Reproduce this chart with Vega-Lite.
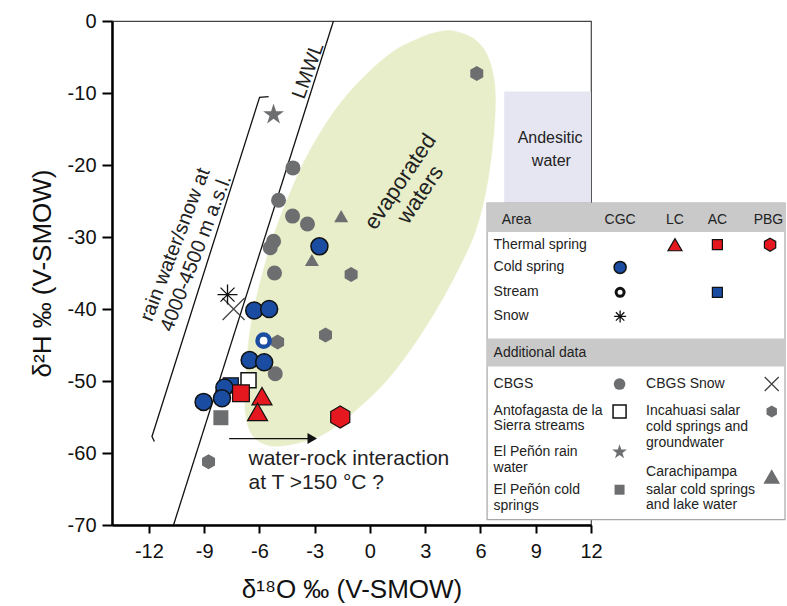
{
  "$schema": "https://vega.github.io/schema/vega-lite/v6.json",
  "width": 479,
  "height": 504,
  "autosize": {"type": "none"},
  "padding": {"left": 112, "top": 21, "right": 196, "bottom": 81},
  "background": "white",
  "config": {
    "font": "Liberation Sans",
    "view": {"stroke": "#444", "strokeWidth": 1.2},
    "axis": {"grid": false, "domainColor": "#000", "domainWidth": 2.5, "tickColor": "#000", "tickWidth": 2, "labelFont": "Liberation Sans", "labelFontSize": 20, "labelColor": "#111", "titleFont": "Liberation Sans", "titleFontSize": 26, "titleFontWeight": "normal", "titleColor": "#111"}
  },
  "datasets": {
    "points": [
      {"group": "cbgs", "where": "plot", "x": -4.18, "y": -20.4},
      {"group": "cbgs", "where": "plot", "x": -4.96, "y": -24.9},
      {"group": "cbgs", "where": "plot", "x": -4.20, "y": -27.1},
      {"group": "cbgs", "where": "plot", "x": -3.39, "y": -28.2},
      {"group": "cbgs", "where": "plot", "x": -5.23, "y": -30.6},
      {"group": "cbgs", "where": "plot", "x": -5.41, "y": -31.5},
      {"group": "cbgs", "where": "plot", "x": -5.18, "y": -35.0},
      {"group": "cbgs", "where": "plot", "x": -5.14, "y": -49.0},
      {"group": "cbgs", "where": "key", "x": 13.55, "y": -50.42},
      {"group": "incahuasi", "where": "plot", "x": 5.80, "y": -7.3},
      {"group": "incahuasi", "where": "plot", "x": -1.02, "y": -35.2},
      {"group": "incahuasi", "where": "plot", "x": -2.41, "y": -43.6},
      {"group": "incahuasi", "where": "plot", "x": -5.01, "y": -44.6},
      {"group": "incahuasi", "where": "plot", "x": -8.76, "y": -61.2},
      {"group": "incahuasi", "where": "key", "x": 21.81, "y": -54.22},
      {"group": "carachipampa", "where": "plot", "x": -1.56, "y": -27.1},
      {"group": "carachipampa", "where": "plot", "x": -3.15, "y": -33.2},
      {"group": "carachipampa", "where": "key", "x": 21.81, "y": -63.25},
      {"group": "penon_cold", "where": "plot", "x": -8.09, "y": -55.1},
      {"group": "penon_cold", "where": "key", "x": 13.55, "y": -65.1},
      {"group": "penon_rain", "where": "plot", "x": -5.23, "y": -13.0},
      {"group": "penon_rain", "where": "key", "x": 13.55, "y": -59.86},
      {"group": "cbgs_snow", "where": "plot", "x": -7.40, "y": -40.0},
      {"group": "cbgs_snow", "where": "key", "x": 21.81, "y": -50.42},
      {"group": "antofagasta", "where": "plot", "x": -6.59, "y": -49.9},
      {"group": "antofagasta", "where": "key", "x": 13.55, "y": -54.22},
      {"group": "cgc_stream", "where": "plot", "x": -5.77, "y": -44.4},
      {"group": "cgc_stream", "where": "key", "x": 13.58, "y": -37.69},
      {"group": "ac_stream", "where": "plot", "x": -7.55, "y": -50.6},
      {"group": "ac_stream", "where": "key", "x": 18.86, "y": -37.69},
      {"group": "cgc_cold", "where": "plot", "x": -2.74, "y": -31.3},
      {"group": "cgc_cold", "where": "plot", "x": -6.28, "y": -40.2},
      {"group": "cgc_cold", "where": "plot", "x": -5.47, "y": -40.0},
      {"group": "cgc_cold", "where": "plot", "x": -6.53, "y": -47.1},
      {"group": "cgc_cold", "where": "plot", "x": -5.74, "y": -47.4},
      {"group": "cgc_cold", "where": "plot", "x": -7.90, "y": -50.9},
      {"group": "cgc_cold", "where": "plot", "x": -9.03, "y": -52.9},
      {"group": "cgc_cold", "where": "plot", "x": -8.03, "y": -52.4},
      {"group": "cgc_cold", "where": "key", "x": 13.58, "y": -34.22},
      {"group": "cgc_snow", "where": "plot", "x": -7.73, "y": -38.0},
      {"group": "cgc_snow", "where": "key", "x": 13.58, "y": -41.03},
      {"group": "ac_thermal", "where": "plot", "x": -7.0, "y": -51.7},
      {"group": "ac_thermal", "where": "key", "x": 18.86, "y": -31.07},
      {"group": "lc_thermal", "where": "plot", "x": -5.86, "y": -52.1},
      {"group": "lc_thermal", "where": "plot", "x": -6.10, "y": -54.3},
      {"group": "lc_thermal", "where": "key", "x": 16.56, "y": -31.07},
      {"group": "pbg_thermal", "where": "plot", "x": -1.61, "y": -55.0},
      {"group": "pbg_thermal", "where": "key", "x": 21.72, "y": -31.07}
    ]
  },
  "encoding": {
    "x": {"field": "x", "type": "quantitative", "scale": {"domain": [-14, 12], "nice": false, "zero": false}, "axis": {"values": [-12, -9, -6, -3, 0, 3, 6, 9, 12], "title": "δ¹⁸O ‰ (V-SMOW)", "tickSize": 8, "labelPadding": 8, "titlePadding": 15, "labelFlush": false, "labelExpr": "replace(datum.label, '−', '-')"}},
    "y": {"field": "y", "type": "quantitative", "scale": {"domain": [-70, 0], "nice": false, "zero": false}, "axis": {"values": [-70, -60, -50, -40, -30, -20, -10, 0], "title": "δ²H ‰ (V-SMOW)", "tickSize": 10, "labelPadding": 6, "titlePadding": 12, "labelFlush": false, "labelExpr": "replace(datum.label, '−', '-')"}}
  },
  "layer": [
    {
      "data": {"values": [
        {"i": 0, "x": 4.90, "y": -1.63}, {"i": 1, "x": 5.71, "y": -2.60}, {"i": 2, "x": 6.36, "y": -4.68}, {"i": 3, "x": 6.74, "y": -8.15},
        {"i": 4, "x": 6.80, "y": -12.3}, {"i": 5, "x": 6.63, "y": -17.9}, {"i": 6, "x": 6.26, "y": -24.1}, {"i": 7, "x": 5.66, "y": -29.7},
        {"i": 8, "x": 4.79, "y": -34.5}, {"i": 9, "x": 3.76, "y": -39.4}, {"i": 10, "x": 2.46, "y": -44.7}, {"i": 11, "x": 0.99, "y": -49.7},
        {"i": 12, "x": -0.64, "y": -53.8}, {"i": 13, "x": -2.37, "y": -57.2}, {"i": 14, "x": -3.89, "y": -58.6}, {"i": 15, "x": -5.41, "y": -59.0},
        {"i": 16, "x": -6.39, "y": -57.5}, {"i": 17, "x": -6.77, "y": -54.0}, {"i": 18, "x": -6.71, "y": -48.4}, {"i": 19, "x": -6.50, "y": -42.9},
        {"i": 20, "x": -6.06, "y": -37.3}, {"i": 21, "x": -5.30, "y": -30.4}, {"i": 22, "x": -4.49, "y": -24.8}, {"i": 23, "x": -3.24, "y": -17.9},
        {"i": 24, "x": -1.45, "y": -10.9}, {"i": 25, "x": 0.88, "y": -4.96}, {"i": 26, "x": 2.73, "y": -2.32}, {"i": 27, "x": 4.08, "y": -1.35}
      ]},
      "mark": {"type": "line", "interpolate": "cardinal-closed", "fill": "#e7eec9", "stroke": "#e7eec9", "strokeWidth": 0.5},
      "encoding": {"order": {"field": "i", "type": "quantitative"}}
    },
    {
      "data": {"values": [{"x": 7.29, "x2": 12, "y": -9.8, "y2": -25.3}]},
      "mark": {"type": "rect", "color": "#e6e6f3"},
      "encoding": {"x2": {"field": "x2"}, "y2": {"field": "y2"}}
    },
    {
      "data": {"values": [{"x": 6.36, "x2": 22.53, "y": -25.28, "y2": -69.26}]},
      "mark": {"type": "rect", "fill": "white", "stroke": "#a6a6a6", "strokeWidth": 1.2},
      "encoding": {"x2": {"field": "x2"}, "y2": {"field": "y2"}}
    },
    {
      "data": {"values": [{"x": 6.36, "x2": 22.53, "y": -25.28, "y2": -29.31}, {"x": 6.36, "x2": 22.53, "y": -44.1, "y2": -47.97}]},
      "mark": {"type": "rect", "color": "#c9c9c9"},
      "encoding": {"x2": {"field": "x2"}, "y2": {"field": "y2"}}
    },
    {
      "data": {"values": [
        {"id": "lmwl", "i": 0, "x": -10.66, "y": -70}, {"id": "lmwl", "i": 1, "x": -1.98, "y": 0},
        {"id": "bracket", "i": 0, "x": -5.50, "y": -10.5}, {"id": "bracket", "i": 1, "x": -5.99, "y": -10.6}, {"id": "bracket", "i": 2, "x": -11.83, "y": -57.7}, {"id": "bracket", "i": 3, "x": -11.70, "y": -58.4},
        {"id": "arrow", "i": 0, "x": -7.64, "y": -58.0}, {"id": "arrow", "i": 1, "x": -3.3, "y": -58.0}
      ]},
      "mark": {"type": "line", "color": "#111", "strokeWidth": 1.3},
      "encoding": {"detail": {"field": "id"}, "order": {"field": "i", "type": "quantitative"}}
    },
    {
      "data": {"values": [{"x": -3.13, "y": -58.0}]},
      "mark": {"type": "point", "shape": "triangle-right", "filled": true, "color": "#111", "opacity": 1, "size": 121}
    },
    {
      "data": {"name": "points"},
      "transform": [{"filter": "datum.group === 'cbgs'"}],
      "mark": {"type": "point", "shape": "circle", "filled": true, "color": "#6d6e70", "opacity": 1},
      "encoding": {"size": {"condition": {"test": "datum.where === 'key'", "value": 136}, "value": 225}}
    },
    {
      "data": {"name": "points"},
      "transform": [{"filter": "datum.group === 'incahuasi'"}],
      "mark": {"type": "point", "shape": "M0,-1L0.866,-0.5L0.866,0.5L0,1L-0.866,0.5L-0.866,-0.5Z", "filled": true, "color": "#6d6e70", "opacity": 1},
      "encoding": {"size": {"condition": {"test": "datum.where === 'key'", "value": 144}, "value": 225}}
    },
    {
      "data": {"name": "points"},
      "transform": [{"filter": "datum.group === 'carachipampa'"}],
      "mark": {"type": "point", "shape": "triangle-up", "filled": true, "color": "#6d6e70", "opacity": 1},
      "encoding": {"size": {"condition": {"test": "datum.where === 'key'", "value": 280}, "value": 196}}
    },
    {
      "data": {"name": "points"},
      "transform": [{"filter": "datum.group === 'penon_cold'"}],
      "mark": {"type": "point", "shape": "square", "filled": true, "color": "#6d6e70", "opacity": 1},
      "encoding": {"size": {"condition": {"test": "datum.where === 'key'", "value": 100}, "value": 225}}
    },
    {
      "data": {"name": "points"},
      "transform": [{"filter": "datum.group === 'penon_rain'"}],
      "mark": {"type": "point", "shape": "M0,-1L0.225,-0.309L0.951,-0.309L0.363,0.118L0.588,0.809L0,0.382L-0.588,0.809L-0.363,0.118L-0.951,-0.309L-0.225,-0.309Z", "filled": true, "color": "#6d6e70", "opacity": 1},
      "encoding": {"size": {"condition": {"test": "datum.where === 'key'", "value": 240}, "value": 484}}
    },
    {
      "data": {"name": "points"},
      "transform": [{"filter": "datum.group === 'cbgs_snow'"}],
      "mark": {"type": "point", "shape": "M-1,-1L1,1M-1,1L1,-1", "filled": false, "color": "#444", "strokeWidth": 1.3, "opacity": 1},
      "encoding": {"size": {"condition": {"test": "datum.where === 'key'", "value": 196}, "value": 484}}
    },
    {
      "data": {"name": "points"},
      "transform": [{"filter": "datum.group === 'antofagasta'"}],
      "mark": {"type": "point", "shape": "square", "fill": "white", "stroke": "#111", "strokeWidth": 1.5, "opacity": 1},
      "encoding": {"size": {"condition": {"test": "datum.where === 'key'", "value": 169}, "value": 225}}
    },
    {
      "data": {"name": "points"},
      "transform": [{"filter": "datum.group === 'cgc_stream'"}],
      "mark": {"type": "point", "shape": "circle", "fill": "white", "opacity": 1},
      "encoding": {
        "size": {"condition": {"test": "datum.where === 'key'", "value": 64}, "value": 150},
        "stroke": {"condition": {"test": "datum.where === 'key'", "value": "#111"}, "value": "#1a4da1"},
        "strokeWidth": {"condition": {"test": "datum.where === 'key'", "value": 3}, "value": 4.5}
      }
    },
    {
      "data": {"name": "points"},
      "transform": [{"filter": "datum.group === 'ac_stream'"}],
      "mark": {"type": "point", "shape": "square", "fill": "#1a4da1", "stroke": "#111", "strokeWidth": 1.2, "opacity": 1},
      "encoding": {"size": {"condition": {"test": "datum.where === 'key'", "value": 100}, "value": 225}}
    },
    {
      "data": {"name": "points"},
      "transform": [{"filter": "datum.group === 'cgc_cold'"}],
      "mark": {"type": "point", "shape": "circle", "fill": "#1a4da1", "stroke": "#111", "strokeWidth": 1.5, "opacity": 1},
      "encoding": {"size": {"condition": {"test": "datum.where === 'key'", "value": 144}, "value": 289}}
    },
    {
      "data": {"name": "points"},
      "transform": [{"filter": "datum.group === 'cgc_snow'"}],
      "mark": {"type": "point", "shape": "M0,-1L0,1M-1,0L1,0M-0.7,-0.7L0.7,0.7M-0.7,0.7L0.7,-0.7", "filled": false, "color": "#111", "strokeWidth": 1.3, "opacity": 1},
      "encoding": {"size": {"condition": {"test": "datum.where === 'key'", "value": 144}, "value": 400}}
    },
    {
      "data": {"name": "points"},
      "transform": [{"filter": "datum.group === 'ac_thermal'"}],
      "mark": {"type": "point", "shape": "square", "fill": "#e5171f", "stroke": "#111", "strokeWidth": 1.2, "opacity": 1},
      "encoding": {"size": {"condition": {"test": "datum.where === 'key'", "value": 100}, "value": 280}}
    },
    {
      "data": {"name": "points"},
      "transform": [{"filter": "datum.group === 'lc_thermal'"}],
      "mark": {"type": "point", "shape": "triangle-up", "fill": "#e5171f", "stroke": "#111", "strokeWidth": 1.2, "opacity": 1},
      "encoding": {"size": {"condition": {"test": "datum.where === 'key'", "value": 196}, "value": 400}}
    },
    {
      "data": {"name": "points"},
      "transform": [{"filter": "datum.group === 'pbg_thermal'"}],
      "mark": {"type": "point", "shape": "M0,-1L0.866,-0.5L0.866,0.5L0,1L-0.866,0.5L-0.866,-0.5Z", "fill": "#e5171f", "stroke": "#111", "strokeWidth": 1.2, "opacity": 1},
      "encoding": {"size": {"condition": {"test": "datum.where === 'key'", "value": 169}, "value": 484}}
    },
    {
      "data": {"values": [{"t": "water-rock interaction", "x": -6.59, "y": -60.9}, {"t": "at T >150 °C  ?", "x": -6.59, "y": -64.2}]},
      "mark": {"type": "text", "align": "left", "baseline": "middle", "fontSize": 21, "color": "#222"},
      "encoding": {"text": {"field": "t"}}
    },
    {
      "data": {"values": [{"t": "Andesitic", "x": 9.78, "y": -16.2}, {"t": "water", "x": 9.85, "y": -19.5}]},
      "mark": {"type": "text", "align": "center", "baseline": "middle", "fontSize": 16, "color": "#222"},
      "encoding": {"text": {"field": "t"}}
    },
    {
      "data": {"values": [{"t": "LMWL", "x": -3.35, "y": -6.9}]},
      "mark": {"type": "text", "align": "center", "baseline": "middle", "fontSize": 20, "angle": -70, "color": "#222"},
      "encoding": {"text": {"field": "t"}}
    },
    {
      "data": {"values": [{"t": "rain water/snow at", "x": -10.57, "y": -31.07}, {"t": "4000-4500 m a.s.l.", "x": -9.43, "y": -32.25}]},
      "mark": {"type": "text", "align": "center", "baseline": "middle", "fontSize": 20, "angle": -69, "color": "#222"},
      "encoding": {"text": {"field": "t"}}
    },
    {
      "data": {"values": [{"t": "evaporated", "x": 1.64, "y": -22.3}, {"t": "waters", "x": 2.73, "y": -24.1}]},
      "mark": {"type": "text", "align": "center", "baseline": "middle", "fontSize": 22, "angle": -56, "color": "#222"},
      "encoding": {"text": {"field": "t"}}
    },
    {
      "data": {"values": [
        {"t": "Area", "x": 7.16, "y": -27.6},
        {"t": "Thermal spring", "x": 6.71, "y": -31.07},
        {"t": "Cold spring", "x": 6.71, "y": -34.22},
        {"t": "Stream", "x": 6.71, "y": -37.69},
        {"t": "Snow", "x": 6.71, "y": -41.03},
        {"t": "Additional data", "x": 6.71, "y": -46.07},
        {"t": "CBGS", "x": 6.71, "y": -50.42},
        {"t": "Antofagasta de la", "x": 6.71, "y": -54.22},
        {"t": "Sierra streams", "x": 6.71, "y": -56.31},
        {"t": "El Peñón rain", "x": 6.71, "y": -59.86},
        {"t": "water", "x": 6.71, "y": -62.08},
        {"t": "El Peñón cold", "x": 6.71, "y": -65.1},
        {"t": "springs", "x": 6.71, "y": -67.42},
        {"t": "CBGS Snow", "x": 14.99, "y": -50.42},
        {"t": "Incahuasi salar", "x": 14.99, "y": -54.22},
        {"t": "cold springs and", "x": 14.99, "y": -56.44},
        {"t": "groundwater", "x": 14.99, "y": -58.61},
        {"t": "Carachipampa", "x": 14.99, "y": -62.64},
        {"t": "salar cold springs", "x": 14.99, "y": -65.1},
        {"t": "and lake water", "x": 14.99, "y": -67.28}
      ]},
      "mark": {"type": "text", "align": "left", "baseline": "middle", "fontSize": 14, "color": "#222"},
      "encoding": {"text": {"field": "t"}}
    },
    {
      "data": {"values": [
        {"t": "CGC", "x": 13.58, "y": -27.6},
        {"t": "LC", "x": 16.56, "y": -27.6},
        {"t": "AC", "x": 18.86, "y": -27.6},
        {"t": "PBG", "x": 21.63, "y": -27.6}
      ]},
      "mark": {"type": "text", "align": "center", "baseline": "middle", "fontSize": 14, "color": "#222"},
      "encoding": {"text": {"field": "t"}}
    }
  ]
}
